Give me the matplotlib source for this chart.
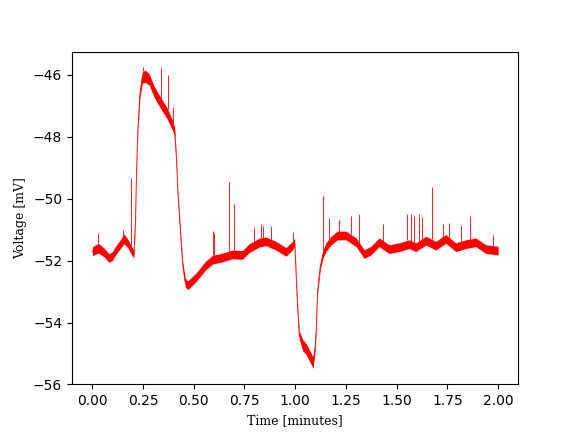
import numpy as np
import matplotlib
matplotlib.use("Agg")
import matplotlib.pyplot as plt

# Trace: time [min], centre voltage [mV], half-width of the noise band [mV]
time_min = [0.000, 0.030, 0.060, 0.082, 0.100, 0.114, 0.135, 0.156, 0.175, 0.189,
            0.205, 0.213, 0.218, 0.225, 0.235, 0.246, 0.260, 0.280, 0.304, 0.337,
            0.369, 0.394, 0.406, 0.415, 0.422, 0.435, 0.445, 0.458, 0.470, 0.510,
            0.560, 0.593, 0.642, 0.691, 0.740, 0.773, 0.823, 0.856, 0.905, 0.954,
            0.987, 0.997, 1.003, 1.008, 1.014, 1.020, 1.036, 1.053, 1.077, 1.088,
            1.098, 1.104, 1.110, 1.123, 1.135, 1.151, 1.176, 1.208, 1.250, 1.300,
            1.340, 1.373, 1.414, 1.463, 1.512, 1.562, 1.594, 1.644, 1.693, 1.742,
            1.791, 1.841, 1.890, 1.939, 2.000]
voltage_mv = [-51.70, -51.60, -51.75, -51.92, -51.85, -51.68, -51.50, -51.30, -51.45, -51.63,
              -51.80, -50.70, -49.10, -47.70, -46.60, -46.10, -46.05, -46.15, -46.54, -46.92,
              -47.25, -47.62, -47.84, -48.76, -49.83, -51.13, -52.11, -52.70, -52.80, -52.55,
              -52.15, -51.97, -51.90, -51.80, -51.82, -51.60, -51.42, -51.38, -51.52, -51.72,
              -51.52, -51.40, -52.20, -53.00, -53.74, -54.40, -54.72, -54.85, -55.15, -55.30,
              -54.80, -54.17, -53.00, -52.22, -51.84, -51.57, -51.36, -51.19, -51.19, -51.41,
              -51.79, -51.68, -51.41, -51.63, -51.57, -51.47, -51.57, -51.36, -51.52, -51.30,
              -51.57, -51.47, -51.41, -51.63, -51.68]
band_mv = [0.14, 0.16, 0.14, 0.14, 0.14, 0.14, 0.14, 0.16, 0.14, 0.14,
           0.12, 0.10, 0.10, 0.10, 0.14, 0.18, 0.20, 0.18, 0.18, 0.18,
           0.18, 0.16, 0.14, 0.08, 0.08, 0.08, 0.10, 0.14, 0.14, 0.14,
           0.14, 0.14, 0.14, 0.14, 0.14, 0.14, 0.14, 0.14, 0.14, 0.14,
           0.14, 0.12, 0.08, 0.08, 0.10, 0.14, 0.18, 0.18, 0.18, 0.18,
           0.14, 0.10, 0.10, 0.10, 0.12, 0.14, 0.14, 0.14, 0.14, 0.14,
           0.14, 0.14, 0.14, 0.14, 0.14, 0.14, 0.14, 0.14, 0.14, 0.14,
           0.14, 0.14, 0.14, 0.14, 0.14]

# Isolated upward spikes: time [min] and peak voltage [mV]
spike_times = [0.030, 0.149, 0.190, 0.251, 0.341, 0.371, 0.399, 0.595, 0.601, 0.675,
               0.700, 0.798, 0.831, 0.839, 0.883, 0.987, 1.135, 1.167, 1.217, 1.274,
               1.315, 1.435, 1.553, 1.570, 1.586, 1.611, 1.627, 1.673, 1.726, 1.759,
               1.816, 1.862, 1.975]
spike_peaks = [-51.11, -51.03, -49.32, -45.75, -45.75, -46.00, -47.03, -51.05, -51.10, -49.46,
               -50.19, -50.92, -50.82, -50.87, -50.87, -51.09, -49.93, -50.62, -50.70, -50.55,
               -50.49, -50.82, -50.49, -50.49, -50.55, -50.49, -50.58, -49.64, -50.82, -50.80,
               -50.84, -50.55, -51.19]

t = np.array(time_min)
v = np.array(voltage_mv)
b = np.array(band_mv)

plt.rcParams['font.family'] = ['DejaVu Sans']
fig, ax = plt.subplots(figsize=(5.76, 4.32), dpi=100)

ax.fill_between(t, v - b, v + b, color='red', linewidth=0)
ax.plot(t, v, color='red', linewidth=0.6)
base = np.interp(spike_times, t, v + b)
ax.vlines(spike_times, base, spike_peaks, color='red', linewidth=0.6)

ax.set_xlabel('Time [minutes]', family='DejaVu Serif', fontsize=9)
ax.set_ylabel('Voltage [mV]', family='DejaVu Serif', fontsize=9)
ax.set_xticks([0.0, 0.25, 0.5, 0.75, 1.0, 1.25, 1.5, 1.75, 2.0])
ax.set_yticks([-56, -54, -52, -50, -48, -46])

fig.savefig('out.png', dpi=100)
